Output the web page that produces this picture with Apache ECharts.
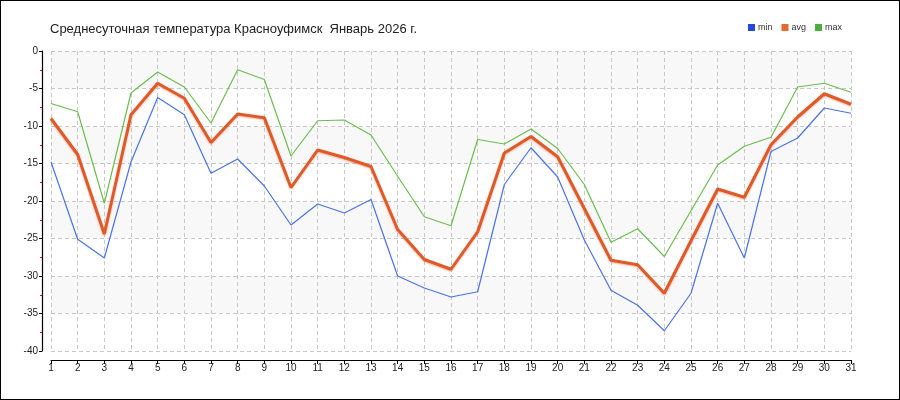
<!DOCTYPE html>
<html>
<head>
<meta charset="utf-8">
<script src="https://cdn.jsdelivr.net/npm/echarts@6/dist/echarts.min.js"></script>
<style>
html,body{margin:0;padding:0;background:#fff;}
#c{width:900px;height:400px;box-sizing:border-box;border:1px solid #000;}
</style>
</head>
<body>
<div id="c"></div>
<script>
const titleText = 'Среднесуточная температура Красноуфимск  Январь 2026 г.';
const days = ['1','2','3','4','5','6','7','8','9','10','11','12','13','14','15','16','17','18','19','20','21','22','23','24','25','26','27','28','29','30','31'];
const minVals = [-14.8,-25.1,-27.6,-14.8,-6.2,-8.5,-16.3,-14.4,-18.0,-23.2,-20.4,-21.6,-19.8,-30.0,-31.6,-32.8,-32.1,-17.8,-12.9,-16.8,-25.2,-31.9,-33.9,-37.3,-32.3,-20.3,-27.6,-13.4,-11.6,-7.6,-8.3];
const avgVals = [-9.0,-13.8,-24.4,-8.5,-4.3,-6.3,-12.2,-8.4,-8.9,-18.2,-13.2,-14.2,-15.4,-23.8,-27.8,-29.1,-24.1,-13.6,-11.4,-14.1,-21.0,-27.9,-28.5,-32.3,-25.3,-18.4,-19.5,-12.5,-8.8,-5.7,-7.1];
const maxVals = [-7.0,-8.1,-20.3,-5.6,-2.8,-4.8,-9.6,-2.5,-3.8,-14.0,-9.3,-9.2,-11.2,-16.7,-22.1,-23.3,-11.8,-12.4,-10.4,-13.0,-17.8,-25.5,-23.7,-27.4,-21.3,-15.2,-12.7,-11.5,-4.8,-4.3,-5.5];
const seriesNames = ['min','avg','max'];

const chart = echarts.init(document.getElementById('c'), null, {renderer:'canvas'});
const ff = 'Liberation Sans, Arial, sans-serif';
chart.setOption({
  animation:false,
  backgroundColor:'#fff',
  title:{
    text:titleText, left:49, top:22, padding:0,
    textStyle:{fontFamily:ff,fontSize:13,fontWeight:'normal',color:'#222'}
  },
  legend:{
    right:52, top:17, itemWidth:7, itemHeight:7, itemGap:9,
    icon:'rect',
    textStyle:{fontFamily:ff,fontSize:9,color:'#333',padding:[0,0,0,-2]},
    data:[
      {name:'min',itemStyle:{color:'#2846e0'}},
      {name:'avg',itemStyle:{color:'#e8672f'}},
      {name:'max',itemStyle:{color:'#4bb135'}}
    ]
  },
  grid:{left:50, top:50, width:800, height:300, containLabel:false},
  xAxis:{
    type:'category', data:days, boundaryGap:false, offset:9,
    axisLine:{show:true,onZero:false,lineStyle:{color:'#000',width:1}},
    axisTick:{show:true,alignWithLabel:true,length:4,lineStyle:{color:'#000'}},
    axisLabel:{fontFamily:ff,fontSize:10,color:'#222',margin:3,interval:0},
    splitLine:{show:true,lineStyle:{color:'#c8c8c8',type:[4,3],width:1}}
  },
  yAxis:{
    type:'value', min:-40, max:0, interval:5, offset:9, position:'left',
    axisLine:{show:true,onZero:false,lineStyle:{color:'#000000',width:1.2,opacity:1}},
    axisTick:{show:true,length:3,lineStyle:{color:'#000'}},
    minorTick:{show:true,splitNumber:2,length:2,lineStyle:{color:'#e00000'}},
    axisLabel:{fontFamily:ff,fontSize:10,color:'#222',margin:4},
    splitLine:{show:true,lineStyle:{color:'#c8c8c8',type:[4,3],width:1}},
    splitArea:{show:true,areaStyle:{color:['rgba(255,255,255,0)','#f8f8f8']}}
  },
  series:[
    {name:'min',type:'line',data:minVals,symbol:'none',z:3,
     lineStyle:{color:'#4a72e6',width:1.2},itemStyle:{color:'#2846e0'}},
    {name:'max',type:'line',data:maxVals,symbol:'none',z:3,
     lineStyle:{color:'#6cbd4f',width:1.2},itemStyle:{color:'#4bb135'}},
    {name:'avg',type:'line',data:avgVals,symbol:'none',z:4,
     lineStyle:{color:'#e05a28',width:3,shadowColor:'rgba(230,100,60,0.45)',shadowBlur:2,shadowOffsetY:1},
     itemStyle:{color:'#e8672f'}}
  ]
});
</script>
</body>
</html>
